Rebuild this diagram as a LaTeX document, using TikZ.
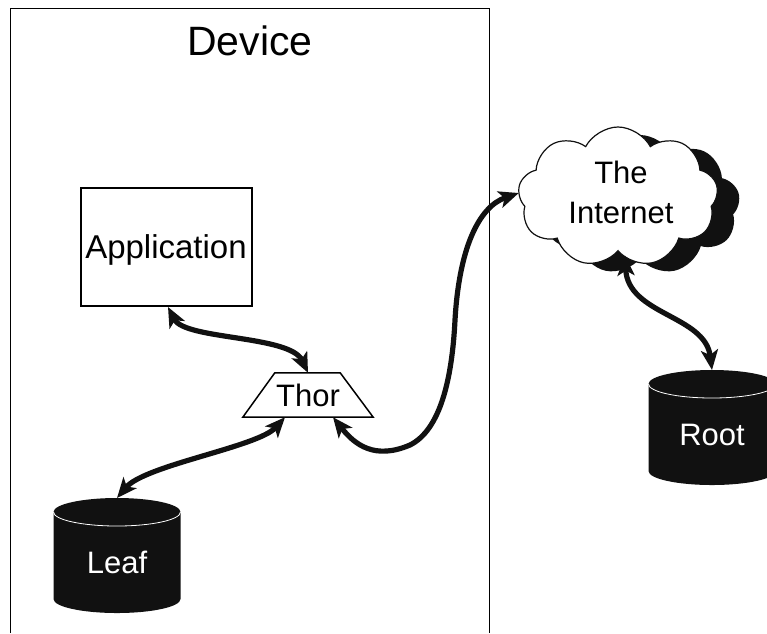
\documentclass[tikz,border=0pt]{standalone}
\usepackage{fontspec}
\setmainfont{Liberation Sans}
\usetikzlibrary{arrows.meta,shapes.symbols,calc}
\definecolor{ink}{HTML}{111111}
\begin{document}
\begin{tikzpicture}[x=1pt,y=1pt,
  lbl/.style={inner sep=0pt,text height=22.2pt,text depth=0pt,font=\fontsize{31}{40}\selectfont},
  conn/.style={line width=5.2pt,draw=ink,
    {Stealth[length=20pt,width=17pt,inset=5pt]}-{Stealth[length=20pt,width=17pt,inset=5pt]}},
  cloudbase/.style={cloud,cloud puffs=9,cloud puff arc=125,minimum width=200pt,minimum height=140pt,inner sep=0pt}
]
\useasboundingbox (0,0) rectangle (767,-633);
% device frame
\draw[line width=1pt] (10,-633) -- (10,-8) -- (489,-8) -- (489,-633);
\node[inner sep=0pt,text height=29.4pt,text depth=0pt,font=\fontsize{41}{48}\selectfont] (device) at (250,-41) {Device};

% application
\node[draw,line width=2pt,minimum width=171pt,minimum height=118pt,inner sep=0pt,
      text height=23.6pt,text depth=0pt,font=\fontsize{33}{40}\selectfont] (app) at (166,-247) {Application};

% thor
\node[lbl,minimum width=130pt,minimum height=44pt] (thor) at (308,-395) {Thor};
\draw[line width=1.5pt,line join=miter] (thor.south west) -- (thor.south east)
  -- ([xshift=-33pt]thor.north east) -- ([xshift=32pt]thor.north west) -- cycle;

% leaf cylinder
\fill[ink] (53.5,-512) -- (53.5,-599) arc[start angle=180,end angle=360,x radius=63.5,y radius=14]
  -- (180.5,-512) arc[start angle=0,end angle=180,x radius=63.5,y radius=14] -- cycle;
\draw[white,line width=0.8pt] (53.5,-512) arc[start angle=180,end angle=360,x radius=63.5,y radius=14];
\coordinate (leaftop) at (117,-498);
\node[lbl,text=white] (leaf) at (117,-562) {Leaf};

% root cylinder
\fill[ink] (648.5,-384) -- (648.5,-471) arc[start angle=180,end angle=360,x radius=63.5,y radius=14]
  -- (775.5,-384) arc[start angle=0,end angle=180,x radius=63.5,y radius=14] -- cycle;
\draw[white,line width=0.8pt] (648.5,-384) arc[start angle=180,end angle=360,x radius=63.5,y radius=14];
\coordinate (roottop) at (712,-370);
\node[lbl,text=white] (root) at (712,-434) {Root};

% cloud
\node[cloudbase,fill=ink] (netshadow) at (640,-205) {};
\node[cloudbase,draw=ink,fill=white,line width=1.2pt] (net) at (618,-197) {};
\node[inner sep=0pt,align=center,font=\fontsize{31}{40}\selectfont] (nettext) at (621,-192) {The\\Internet};

% connectors
\draw[conn] ([xshift=2pt]app.south) .. controls (185,-340) and (290,-335) .. (thor.north);
\draw[conn] ([xshift=-23pt]thor.south) .. controls (258,-447) and (145,-465) .. (leaftop);
\draw[conn] ([xshift=25pt]thor.south) .. controls (355,-445) and (375,-460) .. (410,-445)
  .. controls (440,-430) and (452,-380) .. (455,-320)
  .. controls (459,-250) and (478,-207) .. ([yshift=4pt]net.west);
\draw[conn] ([xshift=7pt,yshift=-4pt]net.south) .. controls (628,-315) and (705,-315) .. (roottop);
\end{tikzpicture}
\end{document}
